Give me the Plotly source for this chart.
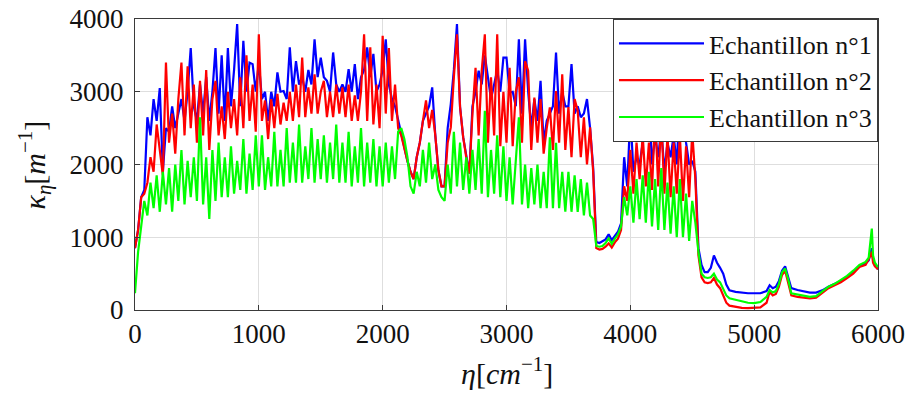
import plotly.graph_objects as go

# wavenumber grid (cm^-1)
wn_noisy = list(range(0, 4550, 25))
wn_smooth = [4550, 4575, 4600, 4625, 4650, 4675, 4700, 4725, 4750, 4775,
             4800, 4850, 4900, 4950, 5000, 5050, 5100, 5125, 5150, 5175,
             5200, 5225, 5250, 5275, 5300, 5350, 5400, 5450, 5500, 5550,
             5600, 5650, 5700, 5750, 5800, 5850, 5900, 5925, 5950, 5960,
             5975, 6000]

ech1_noisy = [
    850, 1100, 1550, 1650, 2650, 2400, 2900, 2600, 3050, 1900, 2500, 2450, 2800, 2500, 2700, 2900, 2600, 3000, 3600, 2800,
    2600, 3100, 2700, 3200, 2600, 3000, 3600, 2700, 3500, 2600, 3600, 2800, 3300, 3930, 2800, 3700, 3000, 3400, 3380, 3000,
    3400, 2900, 3000, 2600, 3000, 2800, 3265, 3000, 3010, 2900, 3610, 3000, 3420, 3100, 3200, 3000, 3300, 3100, 3720, 3200,
    3470, 3200, 3150, 3000, 3540, 3100, 3000, 3100, 3000, 3310, 3000, 3380, 2900, 3200, 3300, 3610, 3200, 3520, 3000, 3100,
    3300, 3720, 3100, 2900, 2800, 2600, 2400, 2200, 2050, 1900, 1800, 2100, 2300, 2600, 2700, 2800, 3060, 2400, 1920, 1700,
    1700, 2500, 2830, 3300, 3930, 2790, 2375, 2100, 1875, 2800, 3000, 3290, 3100, 3500, 3200, 2900, 3100, 3300, 3000, 3470,
    3470, 2990, 3000, 2800, 3720, 2700, 3720, 3000, 2500, 2900, 2600, 3150, 2300, 2600, 2700, 2800, 3540, 2700, 3000, 2800,
    2800, 3380, 2700, 2800, 2650, 2700, 2900, 2500, 1950, 935, 920, 940, 970, 1040, 960, 1020, 1075, 1190, 2100, 1700,
    2700, 1900, 2100, 2000, 2300, 2800, 2900, 2000, 2400, 2100, 2500, 1900, 2300, 2100, 2400, 2000, 2900, 2800, 2300, 2000,
    2050, 1900]
ech2_noisy = [
    850, 1100, 1550, 1600, 1750, 2100, 1900, 2550, 2200, 1850, 3400, 2300, 2700, 2150, 2900, 3400, 2400, 3350, 2500, 3100,
    2300, 3150, 2400, 3300, 2200, 2900, 3150, 2400, 2800, 2350, 3000, 2500, 2900, 2400, 3200, 2500, 3500, 2600, 3100, 2450,
    3790, 2600, 2880, 2350, 2900, 2500, 2970, 2550, 2850, 2600, 3000, 2600, 3100, 2650, 3470, 2650, 3060, 2700, 3240, 2700,
    3000, 3150, 2650, 3000, 2650, 3100, 2700, 3060, 2650, 3100, 2600, 2950, 2600, 3000, 3790, 2600, 3610, 2550, 3100, 2500,
    3770, 2700, 3600, 2600, 3100, 2500, 2400, 2200, 2050, 1900, 1800, 2100, 2300, 2600, 2880, 2500, 2750, 2400, 1920, 1700,
    1700, 2300, 2510, 3200, 3790, 2790, 2375, 2100, 1875, 2700, 3330, 2400, 3290, 3790, 2300, 3200, 2400, 3790, 2250, 3000,
    2300, 3330, 2250, 3000, 3200, 2300, 3420, 3290, 2200, 2920, 2300, 2900, 2150, 2500, 2785, 2200, 3010, 2300, 3240, 2200,
    2790, 2100, 2900, 2740, 2100, 2650, 2000, 2510, 1900, 850, 830, 840, 870, 915, 860, 930, 980, 1100, 1700, 1500,
    2200, 1600, 2300, 1800, 2400, 1700, 2300, 1650, 2700, 1700, 2650, 1600, 2400, 1550, 2300, 1600, 2400, 1500, 2250, 1550,
    2450, 1800]
ech3_noisy = [
    230, 800, 1150, 1500, 1300, 1750, 1400, 1850, 1350, 1900, 1450, 1950, 1350, 2000, 1500, 2200, 1450, 2050, 1550, 2100,
    1500, 2650, 1450, 2100, 1250, 2200, 1500, 2300, 1550, 2100, 1550, 2250, 1600, 2050, 1650, 2350, 1600, 2150, 1650, 2400,
    1700, 2400, 1650, 2100, 1700, 2450, 1700, 2200, 1700, 2500, 1750, 2300, 1750, 2550, 1750, 2250, 1800, 2500, 1750, 2350,
    1800, 2400, 1750, 2300, 1800, 2550, 1750, 2300, 1750, 2450, 1700, 2250, 1750, 2500, 1700, 2300, 1750, 2350, 1700, 2250,
    1700, 2300, 1750, 2250, 1800, 2450, 2500, 2350, 2100, 1700, 1600, 1900, 1700, 2200, 1750, 2300, 1800, 2000, 1650, 1550,
    1500, 2000, 1600, 2450, 1700, 2300, 1650, 2100, 1600, 2200, 1650, 2350, 1600, 2740, 1550, 2200, 1600, 2400, 1550, 2250,
    1500, 2100, 1450, 2000, 2650, 1450, 2000, 1400, 1950, 1450, 2000, 1400, 1900, 1400, 2375, 1400, 2300, 1400, 1900, 1350,
    1900, 1350, 1850, 1350, 1800, 1300, 1750, 1300, 1250, 880, 870, 880, 920, 985, 910, 980, 1040, 1150, 1550, 1300,
    1700, 1200, 1800, 1250, 1850, 1200, 1900, 1150, 1800, 1100, 1950, 1100, 1750, 1050, 1700, 1000, 1800, 1000, 1600, 950,
    1500, 1200]

ech1_smooth = [850, 620, 520, 520, 580, 750, 650, 580, 500, 350,
               270, 250, 235, 230, 230, 230, 260, 340, 300, 320,
               400, 540, 600, 450, 300, 275, 260, 240, 240, 270,
               320, 360, 400, 455, 520, 600, 640, 680, 850, 700,
               620, 560]
ech2_smooth = [750, 450, 380, 370, 380, 440, 350, 300, 200, 100,
               60, 40, 30, 25, 25, 35, 100, 250, 200, 220,
               320, 480, 540, 380, 200, 180, 170, 160, 170, 230,
               300, 340, 380, 440, 500, 590, 620, 700, 800, 650,
               600, 560]
ech3_smooth = [800, 500, 450, 440, 450, 500, 420, 380, 300, 200,
               160, 140, 110, 100, 95, 110, 180, 275, 240, 260,
               360, 520, 570, 420, 230, 210, 190, 180, 190, 250,
               320, 360, 410, 470, 540, 620, 660, 720, 1120, 750,
               650, 590]

names = ["Echantillon n°1", "Echantillon n°2", "Echantillon n°3"]
colors = ["#0000FF", "#FF0000", "#00FF00"]
x_tick_vals = [0, 1000, 2000, 3000, 4000, 5000, 6000]
y_tick_vals = [0, 1000, 2000, 3000, 4000]

wn = wn_noisy + wn_smooth
series = [ech1_noisy + ech1_smooth, ech2_noisy + ech2_smooth, ech3_noisy + ech3_smooth]

fig = go.Figure()
for name, col, vals in zip(names, colors, series):
    fig.add_trace(go.Scatter(x=wn, y=vals, mode="lines", name=name,
                             line=dict(color=col, width=2.2)))

serif = "Liberation Serif"
axis_common = dict(showgrid=True, gridcolor="#dedede", gridwidth=1,
                   showline=True, linecolor="#3a3a3a", linewidth=1, mirror=True,
                   ticks="inside", ticklen=5, tickcolor="#3a3a3a",
                   tickfont=dict(family=serif, size=27, color="#111"),
                   ticklabeloverflow="allow", automargin=False, zeroline=False)

# page body has an 8px default margin: the figure is sized to fill the window
fig.update_layout(
    width=906, height=386,
    margin=dict(l=127, r=36, t=11, b=84),
    paper_bgcolor="white", plot_bgcolor="white",
    font=dict(family=serif),
    xaxis=dict(range=[0, 6000], tickvals=x_tick_vals, **axis_common),
    yaxis=dict(range=[0, 4000], tickvals=y_tick_vals, ticklabelstandoff=5, **axis_common),
    legend=dict(x=1, y=1, xanchor="right", yanchor="top",
                bgcolor="white", bordercolor="#3a3a3a", borderwidth=1,
                font=dict(family=serif, size=26, color="#111"),
                itemwidth=85, tracegroupgap=0),
    showlegend=True,
    annotations=[
        dict(text="<i>η</i>[<i>cm</i><sup>−1</sup>]", xref="paper", yref="paper",
             x=0.5, y=-0.21, xanchor="center", yanchor="middle", showarrow=False,
             font=dict(family=serif, size=30, color="#111")),
        dict(text="<i>κ<sub>η</sub></i>[<i>m</i><sup>−1</sup>]", xref="paper", yref="paper",
             x=-0.1346, y=0.5, xanchor="center", yanchor="middle", showarrow=False,
             textangle=-90, font=dict(family=serif, size=30, color="#111")),
    ],
)

fig.write_html("out.html")
